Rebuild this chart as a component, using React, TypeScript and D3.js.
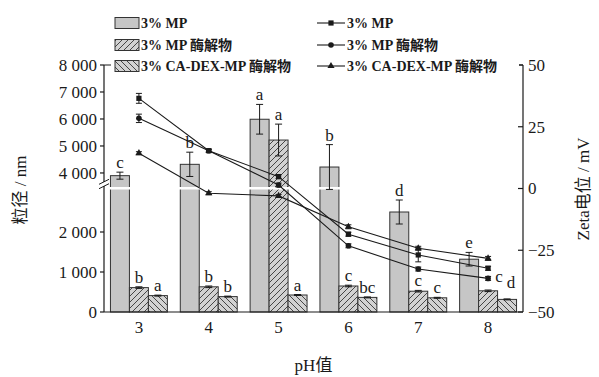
import { useEffect, useRef } from "react";
import * as d3 from "d3";

// pH categories
const phValues = ["3", "4", "5", "6", "7", "8"];

// particle size (nm), bars
const barNames = ["3% MP", "3% MP 酶解物", "3% CA-DEX-MP 酶解物"];
const sizeMP = [3900, 4320, 5990, 4220, 2500, 1320];
const sizeMPErr = [130, 450, 550, 830, 300, 170];
const sizeMPHyd = [610, 630, 5220, 650, 520, 530];
const sizeMPHydErr = [20, 20, 590, 20, 20, 20];
const sizeCAHyd = [410, 385, 425, 365, 355, 315];
const sizeCAHydErr = [12, 12, 12, 12, 12, 12];
const lettersMP = ["c", "b", "a", "b", "d", "e"];
const lettersMPHyd = ["b", "b", "a", "c", "c", "c"];
const lettersCAHyd = ["a", "b", "a", "bc", "c", "d"];

// zeta potential (mV), lines
const zetaMP = [36.5, 15.3, 4.8, -18.5, -26.9, -32.3];
const zetaMPErr = [2.0, 0.6, 0.8, 0.8, 2.8, 0.8];
const zetaMPHyd = [28.4, 15.3, 1.4, -23.2, -32.6, -36.4];
const zetaMPHydErr = [1.7, 0.6, 0.8, 0.8, 0.8, 0.8];
const zetaCAHyd = [14.3, -1.9, -3.0, -15.5, -24.2, -28.3];
const zetaCAHydErr = [0.6, 0.6, 0.6, 0.8, 0.8, 0.8];

// axes
const sizeTicks = [0, 1000, 2000, 4000, 5000, 6000, 7000, 8000];
const sizeBreak = [3125, 3480];
const zetaTicks = [-50, -25, 0, 25, 50];

export default function App() {
  const svgRef = useRef<SVGSVGElement>(null);

  useEffect(() => {
    const svg = d3.select(svgRef.current);
    svg.selectAll("*").remove();

    const W = 599, H = 377;
    const margin = { top: 65, right: 76, bottom: 65, left: 104 };
    const xL = margin.left, xR = W - margin.right;
    const yT = margin.top, yB = H - margin.bottom;
    const font = '"Liberation Serif", "Times New Roman", "Noto Sans CJK SC", serif';
    const ink = "#1a1a1a";

    svg.attr("width", W).attr("height", H).style("font-family", font);

    // patterns
    const defs = svg.append("defs");
    const mkHatch = (id: string, d: string) => {
      const p = defs.append("pattern")
        .attr("id", id).attr("patternUnits", "userSpaceOnUse")
        .attr("width", 6).attr("height", 6);
      p.append("rect").attr("width", 6).attr("height", 6).attr("fill", "#d2d2d2");
      p.append("path").attr("d", d).attr("stroke", "#222").attr("stroke-width", 0.8);
    };
    mkHatch("hatchF", "M-1,1 l2,-2 M0,6 l6,-6 M5,7 l2,-2");
    mkHatch("hatchB", "M-1,5 l2,2 M0,0 l6,6 M5,-1 l2,2");
    const fills = ["#c6c6c6", "url(#hatchF)", "url(#hatchB)"];

    // scales
    const x = d3.scaleBand().domain(phValues).range([xL, xR]).padding(0);
    const xs = d3.scaleBand().domain(barNames).range([0, x.bandwidth()])
      .paddingInner(0).paddingOuter(0.34);
    const yBrk = 187;
    const yLow = d3.scaleLinear().domain([0, sizeBreak[0]]).range([yB, yBrk]);
    const yHigh = d3.scaleLinear().domain([sizeBreak[1], 8000]).range([yBrk, yT]);
    const yS = (v: number) => (v <= sizeBreak[0] ? yLow(v) : yHigh(v));
    const yZ = d3.scaleLinear().domain([-50, 50]).range([yB, yT]);

    const g = svg.append("g");

    // bars
    const barSets = [
      { vals: sizeMP, errs: sizeMPErr, letters: lettersMP },
      { vals: sizeMPHyd, errs: sizeMPHydErr, letters: lettersMPHyd },
      { vals: sizeCAHyd, errs: sizeCAHydErr, letters: lettersCAHyd },
    ];
    // label nudges where the source moved letters aside
    const nudge: Record<string, [number, number]> = { "1-5": [11, -4], "2-5": [4, -7] };

    barSets.forEach((s, si) => {
      phValues.forEach((ph, i) => {
        const bx = (x(ph) as number) + (xs(barNames[si]) as number);
        const bw = xs.bandwidth();
        const top = yS(s.vals[i]);
        g.append("rect")
          .attr("x", bx).attr("y", top)
          .attr("width", bw).attr("height", yB - top)
          .attr("fill", fills[si]).attr("stroke", "#333").attr("stroke-width", 1);
      });
    });

    // break gap through the bars
    g.append("rect")
      .attr("x", xL + 1).attr("y", yBrk).attr("width", xR - xL - 2).attr("height", 2.5)
      .attr("fill", "#fff");

    // error bars + letters for bars
    barSets.forEach((s, si) => {
      phValues.forEach((ph, i) => {
        const cx = (x(ph) as number) + (xs(barNames[si]) as number) + xs.bandwidth() / 2;
        const hi = yS(s.vals[i] + s.errs[i]);
        const lo = yS(s.vals[i] - s.errs[i]);
        g.append("line").attr("x1", cx).attr("x2", cx).attr("y1", hi).attr("y2", lo)
          .attr("stroke", ink).attr("stroke-width", 1);
        [hi, lo].forEach(yy => {
          g.append("line").attr("x1", cx - 3.5).attr("x2", cx + 3.5).attr("y1", yy).attr("y2", yy)
            .attr("stroke", ink).attr("stroke-width", 1);
        });
        const nd = nudge[`${si}-${i}`] || [0, 0];
        g.append("text")
          .attr("x", cx + nd[0]).attr("y", hi - 4 + nd[1])
          .attr("text-anchor", "middle").attr("font-size", 17).attr("fill", ink)
          .text(s.letters[i]);
      });
    });

    // zeta lines
    const lineSets = [
      { vals: zetaMP, errs: zetaMPErr, marker: "square" },
      { vals: zetaMPHyd, errs: zetaMPHydErr, marker: "circle" },
      { vals: zetaCAHyd, errs: zetaCAHydErr, marker: "triangle" },
    ];
    const cxOf = (ph: string) => (x(ph) as number) + x.bandwidth() / 2;
    const drawMarker = (sel: any, kind: string, cx: number, cy: number) => {
      if (kind === "square") {
        sel.append("rect").attr("x", cx - 2.6).attr("y", cy - 2.6)
          .attr("width", 5.2).attr("height", 5.2).attr("fill", ink);
      } else if (kind === "circle") {
        sel.append("circle").attr("cx", cx).attr("cy", cy).attr("r", 2.8).attr("fill", ink);
      } else {
        sel.append("path")
          .attr("d", d3.symbol(d3.symbolTriangle, 22)())
          .attr("transform", `translate(${cx},${cy})`).attr("fill", ink);
      }
    };
    lineSets.forEach(s => {
      const line = d3.line<number>().x((_, i) => cxOf(phValues[i])).y(d => yZ(d));
      g.append("path").attr("d", line(s.vals)).attr("fill", "none")
        .attr("stroke", ink).attr("stroke-width", 1.1);
      s.vals.forEach((v, i) => {
        const cx = cxOf(phValues[i]);
        const hi = yZ(v + s.errs[i]), lo = yZ(v - s.errs[i]);
        g.append("line").attr("x1", cx).attr("x2", cx).attr("y1", hi).attr("y2", lo)
          .attr("stroke", ink).attr("stroke-width", 1);
        [hi, lo].forEach(yy => {
          g.append("line").attr("x1", cx - 3).attr("x2", cx + 3).attr("y1", yy).attr("y2", yy)
            .attr("stroke", ink).attr("stroke-width", 1);
        });
        drawMarker(g, s.marker, cx, yZ(v));
      });
    });

    // frame
    const frame = svg.append("g").attr("stroke", ink).attr("stroke-width", 1.2).attr("fill", "none");
    frame.append("line").attr("x1", xL).attr("x2", xR).attr("y1", yB).attr("y2", yB);
    frame.append("line").attr("x1", xL).attr("x2", xR).attr("y1", yT).attr("y2", yT);
    frame.append("line").attr("x1", xL).attr("x2", xL).attr("y1", yT).attr("y2", yB);
    frame.append("line").attr("x1", xR).attr("x2", xR).attr("y1", yT).attr("y2", yB);

    // left axis ticks
    const fmt = (v: number) => (v >= 1000 ? `${Math.floor(v / 1000)} ${String(v % 1000).padStart(3, "0")}` : `${v}`);
    sizeTicks.forEach(t => {
      const yy = yS(t);
      frame.append("line").attr("x1", xL - 4).attr("x2", xL).attr("y1", yy).attr("y2", yy);
      svg.append("text").attr("x", xL - 7).attr("y", yy).attr("dy", "0.34em")
        .attr("text-anchor", "end").attr("font-size", 17).attr("fill", ink).text(fmt(t));
    });
    // axis break
    const yb = yBrk - 3;
    svg.append("rect").attr("x", xL - 2).attr("y", yb - 2).attr("width", 4).attr("height", 4).attr("fill", "#fff");
    [-2.2, 2.2].forEach(o => {
      svg.append("line")
        .attr("x1", xL - 5).attr("y1", yb + o + 2.5).attr("x2", xL + 5).attr("y2", yb + o - 2.5)
        .attr("stroke", ink).attr("stroke-width", 1);
    });

    // right axis ticks
    zetaTicks.forEach(t => {
      const yy = yZ(t);
      frame.append("line").attr("x1", xR - 5).attr("x2", xR).attr("y1", yy).attr("y2", yy);
      svg.append("text").attr("x", xR + 5).attr("y", yy).attr("dy", "0.34em")
        .attr("font-size", 17).attr("fill", ink).text(t < 0 ? `\u2212${-t}` : `${t}`);
    });

    // x tick labels
    phValues.forEach(ph => {
      svg.append("text").attr("x", cxOf(ph)).attr("y", yB + 21)
        .attr("text-anchor", "middle").attr("font-size", 17).attr("fill", ink).text(ph);
    });

    // axis titles
    svg.append("text").attr("x", (xL + xR) / 2).attr("y", 371)
      .attr("text-anchor", "middle").attr("font-size", 17).attr("fill", ink).text("pH值");
    svg.append("text").attr("transform", `translate(20,190) rotate(-90)`)
      .attr("text-anchor", "middle").attr("dy", "0.35em")
      .attr("font-size", 17).attr("fill", ink).text("粒径 / nm");
    svg.append("text").attr("transform", `translate(583,189) rotate(-90)`)
      .attr("text-anchor", "middle").attr("dy", "0.35em")
      .attr("font-size", 17).attr("fill", ink).text("Zeta电位 / mV");

    // legend
    const rowsY = [23, 45, 66];
    const leg = svg.append("g");
    leg.append("rect").attr("x", xL + 7).attr("y", 8).attr("width", xR - xL - 11).attr("height", 65)
      .attr("fill", "#fff");
    const markers = ["square", "circle", "triangle"];
    barNames.forEach((name, i) => {
      const yy = rowsY[i];
      leg.append("rect").attr("x", 115).attr("y", yy - 5.5).attr("width", 24).attr("height", 11)
        .attr("fill", fills[i]).attr("stroke", "#333").attr("stroke-width", 1);
      const t = leg.append("text").attr("x", 141).attr("y", yy).attr("dy", "0.35em")
        .attr("font-size", 14).attr("font-weight", "bold").attr("fill", ink).text(name);
      const tEnd = 141 + (t.node() as SVGTextElement).getComputedTextLength();
      const ls = Math.max(317, tEnd + 3);
      leg.append("line").attr("x1", ls).attr("x2", 345).attr("y1", yy).attr("y2", yy)
        .attr("stroke", ink).attr("stroke-width", 1.1);
      drawMarker(leg, markers[i], 331, yy);
      leg.append("text").attr("x", 347).attr("y", yy).attr("dy", "0.35em")
        .attr("font-size", 14).attr("font-weight", "bold").attr("fill", ink).text(name);
    });
  }, []);

  return (
    <svg
      ref={svgRef}
      width={599}
      height={377}
      style={{ position: "absolute", left: 0, top: 0, background: "#fff" }}
    />
  );
}
